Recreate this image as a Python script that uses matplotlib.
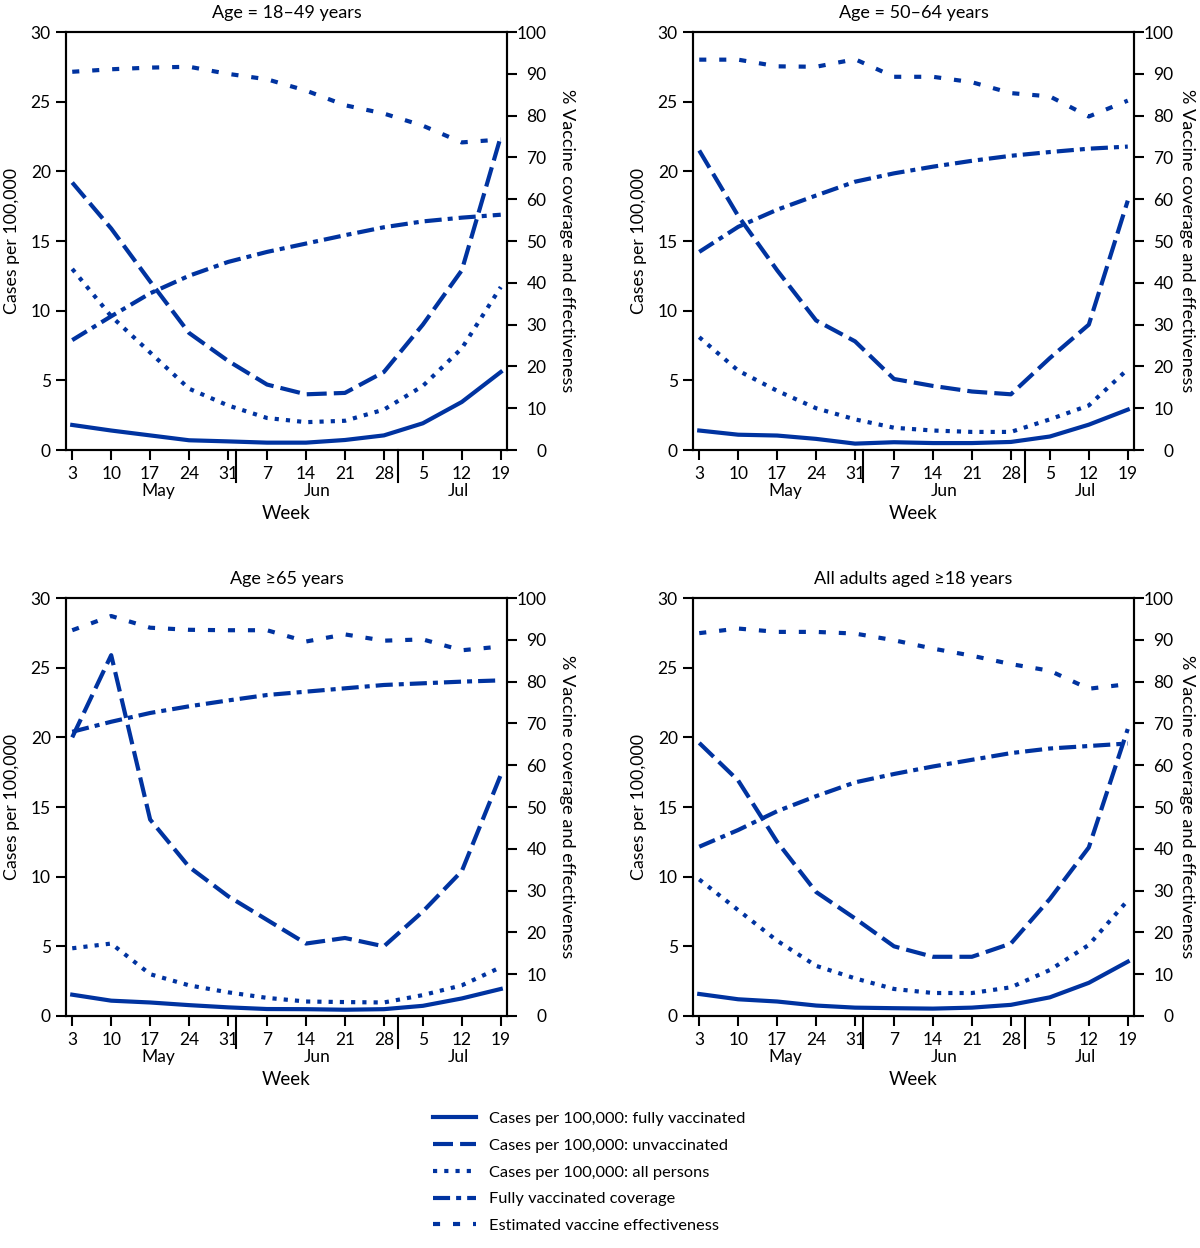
import sys

import matplotlib
matplotlib.use("Agg")
import matplotlib.pyplot as plt
from matplotlib.lines import Line2D

plt.rcParams['font.family'] = ['Lato', 'DejaVu Sans']

# Week labels (May 3 - Jul 19)
weeks = ["3", "10", "17", "24", "31", "7", "14", "21", "28", "5", "12", "19"]
months = ["May", "Jun", "Jul"]

titles = ["Age = 18\u201349 years", "Age = 50\u201364 years",
          "Age \u226565 years", "All adults aged \u226518 years"]

# cases per 100,000 (left axis)
fully_vax = [
    [1.8, 1.4, 1.05, 0.7, 0.62, 0.53, 0.53, 0.72, 1.05, 1.92, 3.45, 5.6],
    [1.4, 1.1, 1.04, 0.8, 0.46, 0.56, 0.5, 0.5, 0.58, 0.97, 1.82, 2.9],
    [1.53, 1.1, 0.97, 0.78, 0.62, 0.5, 0.49, 0.45, 0.49, 0.73, 1.26, 1.94],
    [1.58, 1.2, 1.04, 0.75, 0.6, 0.56, 0.53, 0.6, 0.8, 1.34, 2.38, 3.9],
]
unvax = [
    [19.2, 15.9, 12.1, 8.4, 6.4, 4.7, 4.0, 4.1, 5.6, 9.0, 12.9, 22.5],
    [21.5, 16.8, 12.9, 9.3, 7.8, 5.1, 4.6, 4.2, 4.0, 6.6, 9.0, 17.9],
    [20.0, 25.9, 14.1, 10.7, 8.6, 6.9, 5.2, 5.6, 5.0, 7.5, 10.4, 17.3],
    [19.6, 16.9, 12.5, 8.9, 7.0, 5.0, 4.25, 4.25, 5.2, 8.4, 12.1, 20.6],
]
all_persons = [
    [13.0, 9.6, 7.0, 4.4, 3.2, 2.3, 2.0, 2.1, 2.9, 4.6, 7.3, 11.7],
    [8.1, 5.7, 4.25, 3.0, 2.2, 1.6, 1.4, 1.3, 1.3, 2.2, 3.2, 5.8],
    [4.86, 5.2, 3.0, 2.2, 1.7, 1.3, 1.04, 1.0, 0.97, 1.5, 2.2, 3.5],
    [9.8, 7.6, 5.4, 3.6, 2.7, 1.94, 1.65, 1.65, 2.06, 3.3, 5.1, 8.3],
]

# percent (right axis)
coverage = [
    [26.3, 32.0, 37.5, 41.7, 45.0, 47.4, 49.4, 51.4, 53.3, 54.7, 55.6, 56.3],
    [47.4, 53.4, 57.5, 60.9, 64.2, 66.2, 67.8, 69.2, 70.4, 71.3, 72.1, 72.6],
    [68.0, 70.4, 72.5, 74.1, 75.5, 76.8, 77.6, 78.4, 79.2, 79.6, 80.0, 80.3],
    [40.5, 44.5, 49.0, 52.6, 55.9, 57.9, 59.7, 61.3, 62.9, 64.0, 64.6, 65.2],
]
effectiveness = [
    [90.5, 91.1, 91.5, 91.7, 90.0, 88.7, 86.0, 82.5, 80.5, 77.6, 73.6, 74.3],
    [93.4, 93.4, 91.8, 91.7, 93.5, 89.3, 89.3, 88.0, 85.4, 84.6, 79.8, 83.6],
    [92.3, 95.7, 92.9, 92.4, 92.3, 92.3, 89.6, 91.3, 89.8, 90.1, 87.5, 88.4],
    [91.6, 92.7, 91.9, 91.9, 91.5, 89.9, 87.9, 86.2, 84.2, 82.6, 78.3, 79.4],
]

legend_labels = ["Cases per 100,000: fully vaccinated",
                 "Cases per 100,000: unvaccinated",
                 "Cases per 100,000: all persons",
                 "Fully vaccinated coverage",
                 "Estimated vaccine effectiveness"]

BLUE = "#0033a0"
LW = 3
FS = 12.5
# dash patterns, in multiples of line width
STYLES = [None, (4.8, 1.7), (1.0, 1.7), (4.1, 1.45, 1.2, 1.45), (1.7, 3.1)]


def line_kw(i):
    kw = dict(color=BLUE, lw=LW, solid_joinstyle="round")
    if STYLES[i] is not None:
        kw["dashes"] = STYLES[i]
    return kw


def draw_panel(ax, k, right_lab_x):
    x = list(range(len(weeks)))
    ax2 = ax.twinx()

    ax.plot(x, fully_vax[k], **line_kw(0))
    ax.plot(x, unvax[k], **line_kw(1))
    ax.plot(x, all_persons[k], **line_kw(2))
    ax2.plot(x, coverage[k], **line_kw(3))
    ax2.plot(x, effectiveness[k], **line_kw(4))

    ax.set_xlim(-0.16, 11.16)
    ax.set_ylim(0, 30)
    ax2.set_ylim(0, 100)
    ax.set_yticks(range(0, 31, 5))
    ax2.set_yticks(range(0, 101, 10))
    ax.set_xticks(x)
    ax.set_xticklabels(weeks)

    for a in (ax, ax2):
        for s in a.spines.values():
            s.set_linewidth(1.5)
        a.tick_params(direction="out", length=7.5, width=1.5, labelsize=FS)
    ax.tick_params(axis="y", pad=3.5)
    ax.tick_params(axis="x", pad=4)
    ax2.tick_params(axis="y", pad=21)
    for lbl in ax2.get_yticklabels():
        lbl.set_horizontalalignment("right")

    ax.set_title(titles[k], fontsize=FS + 0.5, pad=10)
    ax.set_ylabel("Cases per 100,000", fontsize=FS + 0.3, va="center")
    ax.yaxis.set_label_coords(-0.122, 0.5)
    ax2.set_ylabel("% Vaccine coverage and effectiveness", fontsize=FS + 0.6,
                   rotation=-90, va="center")
    ax2.yaxis.set_label_coords(right_lab_x, 0.5)

    # month labels and separators under the axis
    trans = ax.get_xaxis_transform()
    for m, pos in zip(months, [2.2, 6.3, 9.9]):
        ax.text(pos, -0.097, m, transform=trans, ha="center", va="center", fontsize=FS)
    for pos in [4.21, 8.35]:
        ax.plot([pos, pos], [0, -0.077], transform=trans, color="black",
                lw=1.5, clip_on=False)
    ax.text(5.5, -0.151, "Week", transform=trans, ha="center", va="center",
            fontsize=FS + 1)


def __main__():
    fig = plt.figure(figsize=(12, 12.48), dpi=100)
    positions = [
        [0.055, 0.6394, 0.3675, 0.3349],
        [0.5775, 0.6394, 0.3675, 0.3349],
        [0.055, 0.1859, 0.3675, 0.3349],
        [0.5775, 0.1859, 0.3675, 0.3349],
    ]
    label_x = [1.135, 1.12, 1.135, 1.12]
    for k, pos in enumerate(positions):
        ax = fig.add_axes(pos)
        draw_panel(ax, k, label_x[k])

    handles = [Line2D([], [], **line_kw(i)) for i in range(5)]
    fig.legend(handles, legend_labels, loc="upper left",
               bbox_to_anchor=(0.3555, 1 - 1105 / 1248), frameon=False,
               fontsize=FS - 0.7, handlelength=2.6, handletextpad=0.8,
               labelspacing=0.75, borderaxespad=0)

    fig.savefig("out.png", dpi=100)


if __name__ == "__main__":
    sys.exit(__main__())
